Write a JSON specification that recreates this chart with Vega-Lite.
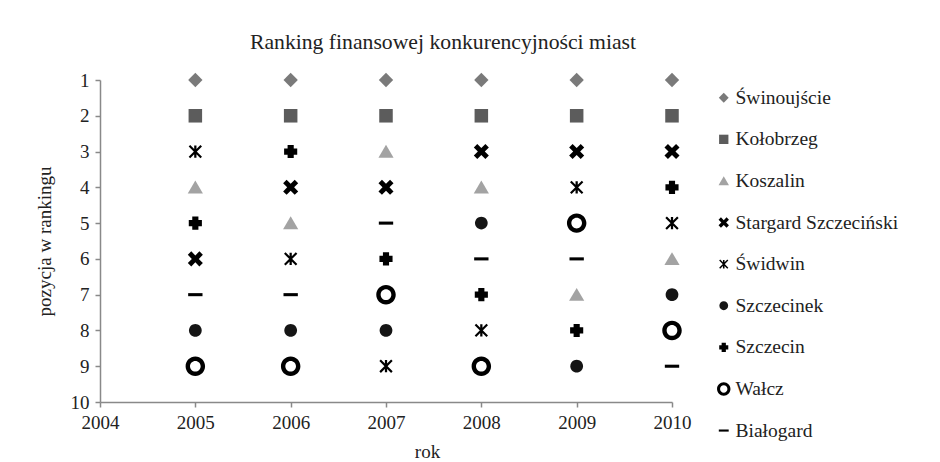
{
  "$schema": "https://vega.github.io/schema/vega-lite/v6.json",
  "width": 572,
  "height": 322,
  "autosize": {"type": "none"},
  "padding": {"left": 100, "top": 80, "right": 268, "bottom": 60},
  "background": "white",
  "title": {
    "text": "Ranking finansowej konkurencyjności miast",
    "anchor": "middle",
    "font": "Times New Roman",
    "dx": 57,
    "offset": 17
  },
  "data": {
    "values": [
      {"miasto": "Świnoujście", "rok": 2005, "pozycja": 1},
      {"miasto": "Kołobrzeg", "rok": 2005, "pozycja": 2},
      {"miasto": "Świdwin", "rok": 2005, "pozycja": 3},
      {"miasto": "Koszalin", "rok": 2005, "pozycja": 4},
      {"miasto": "Szczecin", "rok": 2005, "pozycja": 5},
      {"miasto": "Stargard Szczeciński", "rok": 2005, "pozycja": 6},
      {"miasto": "Białogard", "rok": 2005, "pozycja": 7},
      {"miasto": "Szczecinek", "rok": 2005, "pozycja": 8},
      {"miasto": "Wałcz", "rok": 2005, "pozycja": 9},
      {"miasto": "Świnoujście", "rok": 2006, "pozycja": 1},
      {"miasto": "Kołobrzeg", "rok": 2006, "pozycja": 2},
      {"miasto": "Szczecin", "rok": 2006, "pozycja": 3},
      {"miasto": "Stargard Szczeciński", "rok": 2006, "pozycja": 4},
      {"miasto": "Koszalin", "rok": 2006, "pozycja": 5},
      {"miasto": "Świdwin", "rok": 2006, "pozycja": 6},
      {"miasto": "Białogard", "rok": 2006, "pozycja": 7},
      {"miasto": "Szczecinek", "rok": 2006, "pozycja": 8},
      {"miasto": "Wałcz", "rok": 2006, "pozycja": 9},
      {"miasto": "Świnoujście", "rok": 2007, "pozycja": 1},
      {"miasto": "Kołobrzeg", "rok": 2007, "pozycja": 2},
      {"miasto": "Koszalin", "rok": 2007, "pozycja": 3},
      {"miasto": "Stargard Szczeciński", "rok": 2007, "pozycja": 4},
      {"miasto": "Białogard", "rok": 2007, "pozycja": 5},
      {"miasto": "Szczecin", "rok": 2007, "pozycja": 6},
      {"miasto": "Wałcz", "rok": 2007, "pozycja": 7},
      {"miasto": "Szczecinek", "rok": 2007, "pozycja": 8},
      {"miasto": "Świdwin", "rok": 2007, "pozycja": 9},
      {"miasto": "Świnoujście", "rok": 2008, "pozycja": 1},
      {"miasto": "Kołobrzeg", "rok": 2008, "pozycja": 2},
      {"miasto": "Stargard Szczeciński", "rok": 2008, "pozycja": 3},
      {"miasto": "Koszalin", "rok": 2008, "pozycja": 4},
      {"miasto": "Szczecinek", "rok": 2008, "pozycja": 5},
      {"miasto": "Białogard", "rok": 2008, "pozycja": 6},
      {"miasto": "Szczecin", "rok": 2008, "pozycja": 7},
      {"miasto": "Świdwin", "rok": 2008, "pozycja": 8},
      {"miasto": "Wałcz", "rok": 2008, "pozycja": 9},
      {"miasto": "Świnoujście", "rok": 2009, "pozycja": 1},
      {"miasto": "Kołobrzeg", "rok": 2009, "pozycja": 2},
      {"miasto": "Stargard Szczeciński", "rok": 2009, "pozycja": 3},
      {"miasto": "Świdwin", "rok": 2009, "pozycja": 4},
      {"miasto": "Wałcz", "rok": 2009, "pozycja": 5},
      {"miasto": "Białogard", "rok": 2009, "pozycja": 6},
      {"miasto": "Koszalin", "rok": 2009, "pozycja": 7},
      {"miasto": "Szczecin", "rok": 2009, "pozycja": 8},
      {"miasto": "Szczecinek", "rok": 2009, "pozycja": 9},
      {"miasto": "Świnoujście", "rok": 2010, "pozycja": 1},
      {"miasto": "Kołobrzeg", "rok": 2010, "pozycja": 2},
      {"miasto": "Stargard Szczeciński", "rok": 2010, "pozycja": 3},
      {"miasto": "Szczecin", "rok": 2010, "pozycja": 4},
      {"miasto": "Świdwin", "rok": 2010, "pozycja": 5},
      {"miasto": "Koszalin", "rok": 2010, "pozycja": 6},
      {"miasto": "Szczecinek", "rok": 2010, "pozycja": 7},
      {"miasto": "Wałcz", "rok": 2010, "pozycja": 8},
      {"miasto": "Białogard", "rok": 2010, "pozycja": 9}
    ]
  },
  "mark": {"type": "point", "filled": true, "size": 420, "opacity": 1, "strokeWidth": 0},
  "encoding": {
    "x": {
      "field": "rok",
      "type": "quantitative",
      "title": "rok",
      "scale": {"domain": [2004, 2010], "nice": false, "zero": false},
      "axis": {
        "values": [2004, 2005, 2006, 2007, 2008, 2009, 2010],
        "format": "d",
        "labelFlush": false,
        "titleX": 327,
        "titlePadding": 10
      }
    },
    "y": {
      "field": "pozycja",
      "type": "quantitative",
      "title": "pozycja w rankingu",
      "scale": {"domain": [1, 10], "reverse": true, "nice": false, "zero": false},
      "axis": {
        "values": [1, 2, 3, 4, 5, 6, 7, 8, 9, 10],
        "labelFlush": false,
        "titlePadding": 16
      }
    },
    "shape": {
      "field": "miasto",
      "type": "nominal",
      "scale": {
        "domain": ["Świnoujście", "Kołobrzeg", "Koszalin", "Stargard Szczeciński", "Świdwin", "Szczecinek", "Szczecin", "Wałcz", "Białogard"],
        "range": [
          "M0,-0.7L0.7,0L0,0.7L-0.7,0Z",
          "M-0.66,-0.66L0.66,-0.66L0.66,0.66L-0.66,0.66Z",
          "M0,-0.66L0.74,0.6L-0.74,0.6Z",
          "M0.735,-0.396L0.339,0L0.735,0.396L0.396,0.735L0,0.339L-0.396,0.735L-0.735,0.396L-0.339,0L-0.735,-0.396L-0.396,-0.735L0,-0.339L0.396,-0.735Z",
          "M-0.11,-0.6L0.11,-0.6L0.11,0.6L-0.11,0.6Z M-0.5,-0.65L0.65,0.5L0.5,0.65L-0.65,-0.5Z M0.5,-0.65L0.65,-0.5L-0.5,0.65L-0.65,0.5Z",
          "M0.62,0A0.62,0.62 0 1,1 -0.62,0A0.62,0.62 0 1,1 0.62,0Z",
          "M-0.3,-0.64L0.3,-0.64L0.3,-0.3L0.64,-0.3L0.64,0.3L0.3,0.3L0.3,0.64L-0.3,0.64L-0.3,0.3L-0.64,0.3L-0.64,-0.3L-0.3,-0.3Z",
          "M0.95,0A0.95,0.95 0 1,1 -0.95,0A0.95,0.95 0 1,1 0.95,0Z M0.52,0A0.52,0.52 0 1,0 -0.52,0A0.52,0.52 0 1,0 0.52,0Z",
          "M-0.7,-0.15L0.7,-0.15L0.7,0.15L-0.7,0.15Z"
        ]
      },
      "legend": {
        "title": null,
        "orient": "none",
        "legendX": 614,
        "legendY": 8,
        "symbolSize": 200,
        "symbolStrokeWidth": 0,
        "labelFont": "Times New Roman",
        "labelFontSize": 19.5,
        "labelOffset": 2,
        "rowPadding": 20.6,
        "labelLimit": 300
      }
    },
    "color": {
      "field": "miasto",
      "type": "nominal",
      "scale": {
        "domain": ["Świnoujście", "Kołobrzeg", "Koszalin", "Stargard Szczeciński", "Świdwin", "Szczecinek", "Szczecin", "Wałcz", "Białogard"],
        "range": ["#7a7a7a", "#5c5c5c", "#a3a3a3", "#000000", "#000000", "#151515", "#000000", "#000000", "#000000"]
      },
      "legend": {
        "title": null,
        "orient": "none",
        "legendX": 614,
        "legendY": 8,
        "symbolSize": 200,
        "symbolStrokeWidth": 0,
        "labelFont": "Times New Roman",
        "labelFontSize": 19.5,
        "labelOffset": 2,
        "rowPadding": 20.6,
        "labelLimit": 300
      }
    }
  },
  "config": {
    "font": "Times New Roman",
    "view": {"stroke": null},
    "title": {
      "font": "Times New Roman",
      "fontSize": 21.7,
      "fontWeight": "normal",
      "color": "#222222"
    },
    "legend": {
      "labelFont": "Times New Roman",
      "labelFontSize": 19.5,
      "labelColor": "#222222"
    },
    "axis": {
      "grid": false,
      "domainColor": "#898989",
      "tickColor": "#898989",
      "tickSize": 5,
      "labelPadding": 6,
      "labelFont": "Times New Roman",
      "labelFontSize": 19,
      "labelColor": "#222222",
      "titleFont": "Times New Roman",
      "titleFontSize": 19,
      "titleFontWeight": "normal",
      "titleColor": "#222222",
      "domainWidth": 1.5,
      "tickWidth": 1.5
    }
  }
}
